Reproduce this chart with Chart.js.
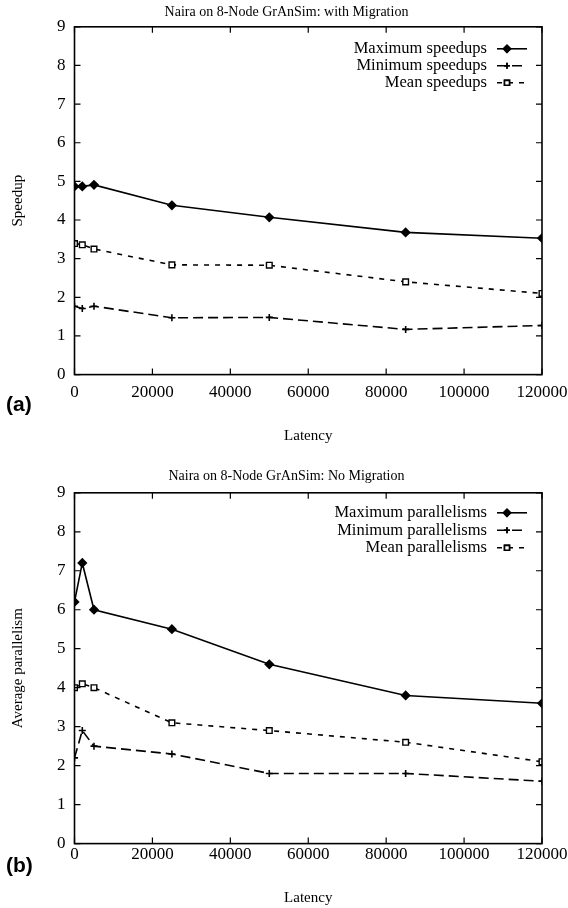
<!DOCTYPE html>
<html>
<head>
<meta charset="utf-8">
<script src="https://cdn.jsdelivr.net/npm/chart.js@4.4.1/dist/chart.umd.min.js"></script>
<style>
  body { margin: 0; background: #fff; }
  .panel { position: relative; width: 568px; }
  .tag { position: absolute; left: 6px; font: bold 21px "Liberation Sans", Arial, sans-serif; color: #000; }
</style>
</head>
<body>
<div class="panel" style="height:455px">
  <canvas id="graficaA" width="568" height="455"></canvas>
  <div class="tag" style="top:392px">(a)</div>
</div>
<div class="panel" style="height:453px">
  <canvas id="graficaB" width="568" height="453"></canvas>
  <div class="tag" style="top:398px">(b)</div>
</div>
<script>
// latencias medidas (eje x)
const latency = [0, 2000, 5000, 25000, 50000, 85000, 120000];
const xTicks = [0, 20000, 40000, 60000, 80000, 100000, 120000];

// (a) con migracion
const maxSpeedup = [4.87, 4.87, 4.91, 4.38, 4.07, 3.68, 3.53];
const minSpeedup = [1.77, 1.71, 1.77, 1.47, 1.48, 1.17, 1.27];
const meanSpeedup = [3.39, 3.36, 3.25, 2.84, 2.83, 2.40, 2.10];

// (b) sin migracion
const maxPar = [6.2, 7.2, 6.0, 5.5, 4.6, 3.8, 3.6];
const minPar = [2.2, 2.9, 2.5, 2.3, 1.8, 1.8, 1.6];
const meanPar = [4.0, 4.1, 4.0, 3.1, 2.9, 2.6, 2.1];

const serif = 'Liberation Serif';

function puntos(valores) {
  return latency.map((x, i) => ({ x: x, y: valores[i] }));
}

function series(maxVals, minVals, meanVals, nombres) {
  return [
    { label: nombres[0], data: puntos(maxVals), borderColor: '#000', backgroundColor: '#000',
      borderWidth: 1.6, pointStyle: 'rectRot', pointRadius: 4, borderDash: [] },
    { label: nombres[1], data: puntos(minVals), borderColor: '#000', backgroundColor: '#000',
      borderWidth: 1.6, pointStyle: 'cross', pointRadius: 3.5, borderDash: [10, 5] },
    { label: nombres[2], data: puntos(meanVals), borderColor: '#000', backgroundColor: '#fff',
      borderWidth: 1.6, pointStyle: 'rect', pointRadius: 4, pointBorderWidth: 1.4, borderDash: [5, 6] }
  ];
}

// marco, ticks hacia adentro y leyenda dentro del area
const marco = {
  id: 'marco',
  afterDraw(chart) {
    const { ctx, chartArea: a, scales } = chart;
    const leg = chart.options.plugins.marco;
    ctx.save();
    ctx.strokeStyle = '#000';
    ctx.lineWidth = 1.6;
    ctx.setLineDash([]);
    ctx.strokeRect(a.left, a.top, a.right - a.left, a.bottom - a.top);
    ctx.lineWidth = 1.2;
    ctx.beginPath();
    scales.x.ticks.forEach(t => {
      const px = scales.x.getPixelForValue(t.value);
      ctx.moveTo(px, a.bottom); ctx.lineTo(px, a.bottom - 6);
      ctx.moveTo(px, a.top); ctx.lineTo(px, a.top + 6);
    });
    scales.y.ticks.forEach(t => {
      const py = scales.y.getPixelForValue(t.value);
      ctx.moveTo(a.left, py); ctx.lineTo(a.left + 6, py);
      ctx.moveTo(a.right, py); ctx.lineTo(a.right - 6, py);
    });
    ctx.stroke();

    ctx.font = '16.5px "' + serif + '"';
    ctx.textAlign = 'right';
    ctx.textBaseline = 'middle';
    ctx.fillStyle = '#000';
    chart.data.datasets.forEach((ds, i) => {
      const y = a.top + leg.top + i * leg.step;
      ctx.fillText(ds.label, a.right - 55, y);
      ctx.beginPath();
      ctx.lineWidth = ds.borderWidth;
      ctx.setLineDash(ds.borderDash);
      ctx.moveTo(a.right - 45, y);
      ctx.lineTo(a.right - 15, y);
      ctx.stroke();
      ctx.setLineDash([]);
      Chart.helpers.drawPoint(ctx, {
        pointStyle: ds.pointStyle,
        radius: ds.pointRadius - 0.5,
        borderWidth: ds.pointBorderWidth || ds.borderWidth
      }, a.right - 35, y);
      ctx.fillStyle = ds.backgroundColor;
      ctx.fill();
      ctx.stroke();
      ctx.fillStyle = '#000';
    });
    ctx.restore();
  }
};

function opciones(titulo, yTitulo, c) {
  return {
    responsive: false,
    animation: false,
    layout: { padding: { left: 5, right: 0, top: 0, bottom: c.bottom } },
    plugins: {
      legend: { display: false },
      tooltip: { enabled: false },
      marco: { top: c.legTop, step: c.legStep },
      title: { display: true, text: titulo, color: '#000',
        font: { family: serif, size: 14, weight: 'normal' }, padding: c.titlePad }
    },
    elements: { line: { tension: 0 } },
    scales: {
      x: {
        type: 'linear', min: 0, max: 120000,
        afterBuildTicks: s => { s.ticks = xTicks.map(v => ({ value: v })); },
        afterFit: s => { s.paddingRight = 26; },
        ticks: { color: '#000', font: { family: serif, size: 17 }, padding: c.xTickPad, maxRotation: 0,
          callback: v => String(v) },
        grid: { display: false, drawTicks: false },
        border: { display: false },
        title: { display: true, text: 'Latency', color: '#000',
          font: { family: serif, size: 15 }, padding: { top: c.latPad, bottom: c.latBottom } }
      },
      y: {
        min: 0, max: 9,
        ticks: { stepSize: 1, color: '#000', font: { family: serif, size: 17 }, padding: 9 },
        grid: { display: false, drawTicks: false },
        border: { display: false },
        title: { display: true, text: yTitulo, color: '#000',
          font: { family: serif, size: 15 }, padding: { top: 4, bottom: 21 } }
      }
    }
  };
}

document.addEventListener('DOMContentLoaded', function () {
  new Chart(document.getElementById('graficaA').getContext('2d'), {
    type: 'line',
    data: { datasets: series(maxSpeedup, minSpeedup, meanSpeedup,
      ['Maximum speedups', 'Minimum speedups', 'Mean speedups']) },
    options: opciones('Naira on 8-Node GrAnSim: with Migration', 'Speedup',
      { bottom: 8, titlePad: { top: 4, bottom: 6 }, xTickPad: 8, latPad: 16, latBottom: 2,
        legTop: 22, legStep: 17 }),
    plugins: [marco]
  });
  new Chart(document.getElementById('graficaB').getContext('2d'), {
    type: 'line',
    data: { datasets: series(maxPar, minPar, meanPar,
      ['Maximum parallelisms', 'Minimum parallelisms', 'Mean parallelisms']) },
    options: opciones('Naira on 8-Node GrAnSim: No Migration', 'Average parallelism',
      { bottom: 1, titlePad: { top: 13, bottom: 8 }, xTickPad: 1, latPad: 23, latBottom: 0,
        legTop: 20, legStep: 17.5 }),
    plugins: [marco]
  });
});
</script>
</body>
</html>
